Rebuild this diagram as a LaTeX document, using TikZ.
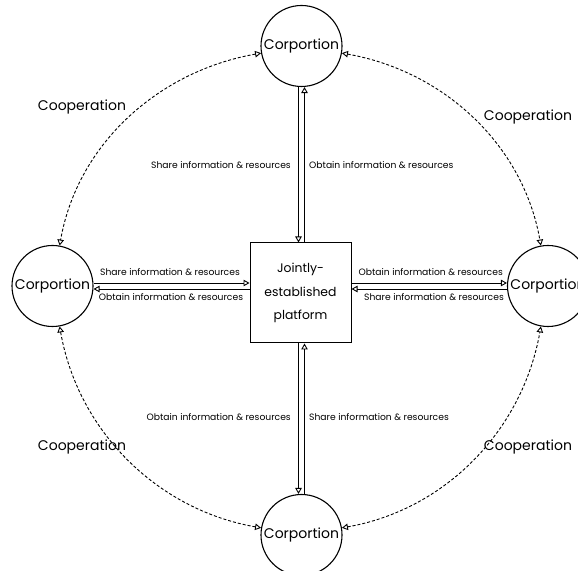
\documentclass[tikz,border=0pt]{standalone}
\usepackage{fontspec}
\setmainfont{Poppins}
\usetikzlibrary{arrows.meta}

\tikzset{
  corp/.style={circle, draw, line width=1.1pt, minimum size=81pt, inner sep=0pt, font=\fontsize{14}{16}\selectfont},
  platform/.style={rectangle, draw, line width=1pt, minimum width=101pt, minimum height=100pt, align=center, font=\fontsize{12.4}{23.5}\selectfont},
  flow/.style={line width=0.9pt, -{Triangle[open, length=6pt, width=6.5pt]}},
  coop/.style={line width=0.9pt, dash pattern=on 3pt off 2pt, looseness=0.95, {Triangle[open, length=6pt, width=6.5pt]}-{Triangle[open, length=6pt, width=6.5pt]}},
  info/.style={font=\fontsize{9.2}{11}\selectfont, inner sep=1pt},
  cooplabel/.style={font=\fontsize{14}{16}\selectfont},
}

\begin{document}
\begin{tikzpicture}[x=1pt, y=1pt]
  \useasboundingbox (0,0) rectangle (578,570);

  % the four corporations and the shared platform
  \node[corp] (T) at (301.5,524) {Corportion};
  \node[corp] (L) at (52.5,284) {Corportion};
  \node[corp] (R) at (548,284) {Corportion};
  \node[corp] (B) at (301.5,35) {Corportion};
  \node[platform] (P) at (300.5,277) {Jointly-\\established\\platform};

  % exchanges along the vertical axis
  \draw[flow] ([xshift=-3pt]T.south) -- ([xshift=-3pt]T.south |- P.north);
  \draw[flow] ([xshift=3pt]T.south |- P.north) -- ([xshift=3pt]T.south);
  \draw[flow] ([xshift=-3pt]B.north |- P.south) -- ([xshift=-3pt]B.north);
  \draw[flow] ([xshift=3pt]B.north) -- ([xshift=3pt]B.north |- P.south);

  % exchanges along the horizontal axis
  \draw[flow] ([yshift=3pt]L.east) -- ([yshift=3pt]L.east -| P.west);
  \draw[flow] ([yshift=-3pt]L.east -| P.west) -- ([yshift=-3pt]L.east);
  \draw[flow] ([yshift=3pt]R.west -| P.east) -- ([yshift=3pt]R.west);
  \draw[flow] ([yshift=-3pt]R.west) -- ([yshift=-3pt]R.west -| P.east);

  % labels of the exchanges
  \node[info, anchor=east] (t1) at (292,405) {Share information \& resources};
  \node[info, anchor=west] (t2) at (308,405) {Obtain information \& resources};
  \node[info] (l1) at (170,298) {Share information \& resources};
  \node[info] (l2) at (171,273) {Obtain information \& resources};
  \node[info, anchor=east] (r1) at (504,298) {Obtain information \& resources};
  \node[info, anchor=east] (r2) at (505,273) {Share information \& resources};
  \node[info, anchor=east] (b1) at (292,153) {Obtain information \& resources};
  \node[info, anchor=west] (b2) at (308,153) {Share information \& resources};

  % cooperation between neighbouring corporations
  \draw[coop] (T) to[out=190, in=80] (L);
  \draw[coop] (T) to[out=-10, in=100] (R);
  \draw[coop] (B) to[out=170, in=-80] (L);
  \draw[coop] (B) to[out=10, in=-100] (R);

  \node[cooplabel] (c1) at (82,463) {Cooperation};
  \node[cooplabel] (c2) at (528,453) {Cooperation};
  \node[cooplabel] (c3) at (82,123) {Cooperation};
  \node[cooplabel] (c4) at (528,123) {Cooperation};
\end{tikzpicture}
\end{document}
